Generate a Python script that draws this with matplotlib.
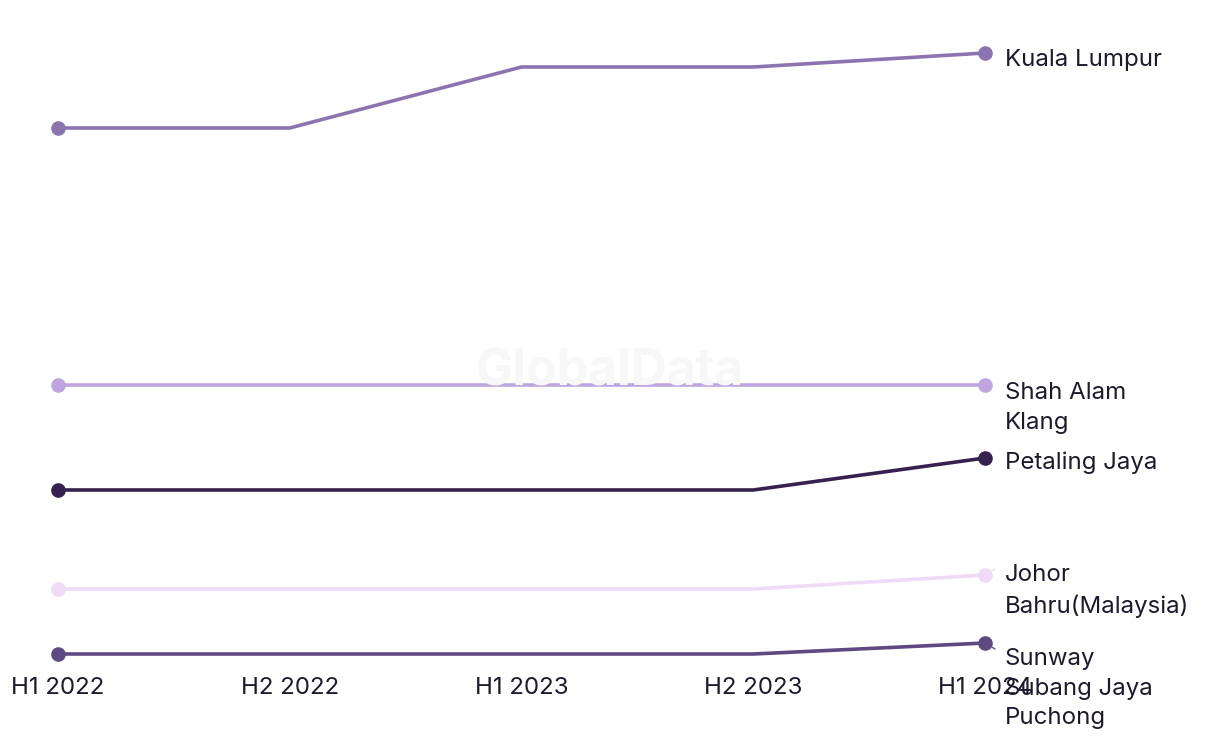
import matplotlib
matplotlib.use('Agg')
import matplotlib.pyplot as plt

periods = ['H1 2022', 'H2 2022', 'H1 2023', 'H2 2023', 'H1 2024']

kuala_lumpur = [57.2, 57.2, 63.3, 63.3, 64.7]
shah_alam_klang = [31.5, 31.5, 31.5, 31.5, 31.5]
petaling_jaya = [21.0, 21.0, 21.0, 21.0, 24.2]
johor_bahru = [11.1, 11.1, 11.1, 11.1, 12.5]
sunway_subang_puchong = [4.6, 4.6, 4.6, 4.6, 5.7]

labels = ['Kuala Lumpur', 'Shah Alam\nKlang', 'Petaling Jaya',
          'Johor\nBahru(Malaysia)', 'Sunway\nSubang Jaya\nPuchong']
series = [kuala_lumpur, shah_alam_klang, petaling_jaya, johor_bahru, sunway_subang_puchong]
colors = ['#8c74b0', '#bfa5df', '#36214f', '#efdbf8', '#5e4a80']
# label offsets in pixels (x, y) from the last point
offsets = [(20, -7), (20, 3), (20, -5), (20, 11), (20, -5)]
leaders = [0, 0, 0, 1, -1]

plt.rcParams['font.family'] = ['Inter', 'DejaVu Sans']
textcol = '#1c1b2e'
fs = 17.3

fig = plt.figure(figsize=(12.2, 7.44), dpi=100)
ax = fig.add_axes([58/1220, (744-668)/744, (985-58)/1220, (668-50)/744])

fig.text(610/1220, 1-372/744, 'GlobalData', ha='center', va='center',
         fontsize=36, fontweight='bold', color='#f7f7f7', zorder=0)

x = list(range(len(periods)))
for vals, lab, c, off, ld in zip(series, labels, colors, offsets, leaders):
    ax.plot(x, vals, color=c, lw=2.6, marker='o', ms=9.5, markevery=[0, -1],
            clip_on=False, solid_capstyle='round')
    ax.annotate(lab, xy=(x[-1], vals[-1]), xytext=off, textcoords='offset pixels',
                ha='left', va='top' if '\n' in lab else 'center',
                fontsize=fs, color=textcol, linespacing=1.45,
                annotation_clip=False)
    if ld:
        ax.annotate('', xy=(x[-1], vals[-1]), xytext=(10, 6 * ld),
                    textcoords='offset pixels',
                    arrowprops=dict(arrowstyle='-', color=c, lw=1, shrinkA=0, shrinkB=6),
                    annotation_clip=False)

ax.set_xlim(0, 4)
ax.set_ylim(3.2, 65)
ax.set_xticks(x)
ax.set_xticklabels(periods, fontsize=fs, color=textcol)
ax.tick_params(axis='x', length=0, pad=6.5)
ax.set_yticks([])
for s in ax.spines.values():
    s.set_visible(False)

fig.savefig('out.png', dpi=100)
